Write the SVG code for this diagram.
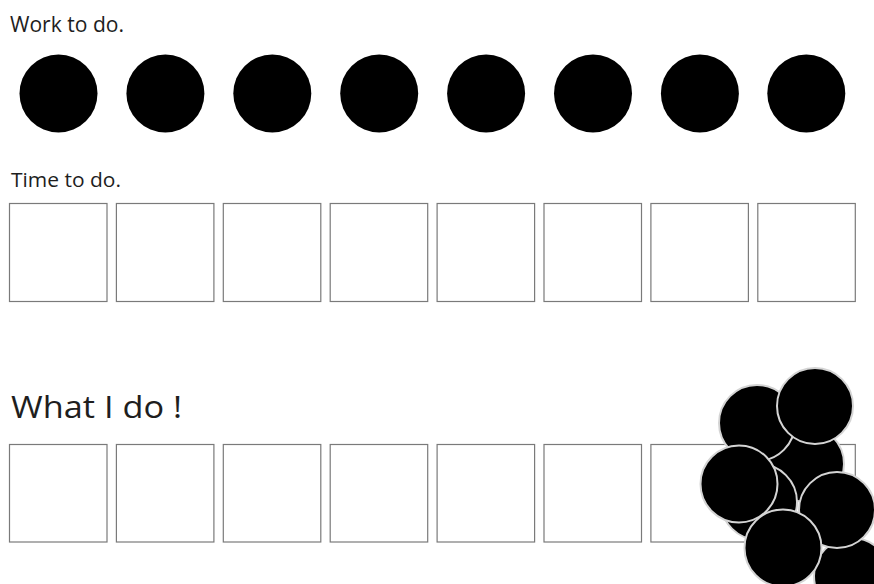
<svg xmlns="http://www.w3.org/2000/svg" width="874" height="584" viewBox="0 0 874 584">
<style>
.lbl{font-family:"Open Sans","Liberation Sans",sans-serif;fill:#1e1e1e}
.dot{fill:#000}
.box{fill:#fff;stroke:#7a7a7a;stroke-width:1.2}
.pile{fill:#000;stroke:#d4d4d4;stroke-width:2}
</style>
<rect width="874" height="584" fill="#fff"/>
<g id="title-work"><text class="lbl" x="10" y="32" font-size="21" textLength="114" lengthAdjust="spacingAndGlyphs">Work to do.</text></g>
<g id="work-dots">
<circle class="dot" cx="58.5" cy="93.5" r="39"/>
<circle class="dot" cx="165.4" cy="93.5" r="39"/>
<circle class="dot" cx="272.3" cy="93.5" r="39"/>
<circle class="dot" cx="379.2" cy="93.5" r="39"/>
<circle class="dot" cx="486.1" cy="93.5" r="39"/>
<circle class="dot" cx="593" cy="93.5" r="39"/>
<circle class="dot" cx="699.9" cy="93.5" r="39"/>
<circle class="dot" cx="806.3" cy="93.5" r="39"/>
</g>
<g id="title-time"><text class="lbl" x="11" y="187" font-size="20" textLength="110" lengthAdjust="spacingAndGlyphs">Time to do.</text></g>
<g id="time-boxes">
<rect class="box" x="9.5" y="203.5" width="97.5" height="98"/>
<rect class="box" x="116.4" y="203.5" width="97.5" height="98"/>
<rect class="box" x="223.3" y="203.5" width="97.5" height="98"/>
<rect class="box" x="330.2" y="203.5" width="97.5" height="98"/>
<rect class="box" x="437.1" y="203.5" width="97.5" height="98"/>
<rect class="box" x="544" y="203.5" width="97.5" height="98"/>
<rect class="box" x="650.9" y="203.5" width="97.5" height="98"/>
<rect class="box" x="757.8" y="203.5" width="97.5" height="98"/>
</g>
<g id="title-what"><text class="lbl" x="11" y="418" font-size="31" textLength="171" lengthAdjust="spacingAndGlyphs">What I do !</text></g>
<g id="done-boxes">
<rect class="box" x="9.5" y="444.5" width="97.5" height="97.5"/>
<rect class="box" x="116.4" y="444.5" width="97.5" height="97.5"/>
<rect class="box" x="223.3" y="444.5" width="97.5" height="97.5"/>
<rect class="box" x="330.2" y="444.5" width="97.5" height="97.5"/>
<rect class="box" x="437.1" y="444.5" width="97.5" height="97.5"/>
<rect class="box" x="544" y="444.5" width="97.5" height="97.5"/>
<rect class="box" x="650.9" y="444.5" width="97.5" height="97.5"/>
<rect class="box" x="757.8" y="444.5" width="97.5" height="97.5"/>
</g>
<g id="pile">
<circle class="pile" cx="852" cy="576" r="38"/>
<circle class="pile" cx="806" cy="464" r="38"/>
<circle class="pile" cx="759" cy="502" r="38"/>
<circle class="pile" cx="757" cy="423" r="38"/>
<circle class="pile" cx="815" cy="406" r="38"/>
<circle class="pile" cx="739" cy="484" r="38.5"/>
<circle class="pile" cx="837" cy="510" r="38"/>
<circle class="pile" cx="783" cy="548" r="38.5"/>
</g>
</svg>
